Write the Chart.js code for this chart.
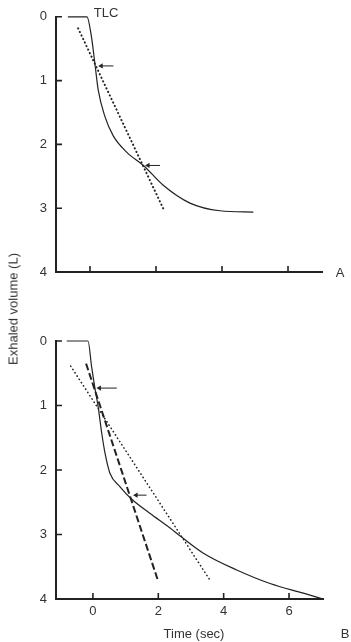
<!DOCTYPE html>
<html>
<head>
<meta charset="utf-8">
<script src="https://cdn.jsdelivr.net/npm/chart.js@4.4.1/dist/chart.umd.min.js"></script>
<style>
  html, body { margin: 0; padding: 0; background: #fff; }
  body { width: 351px; height: 642px; position: relative; overflow: hidden;
         font-family: "Liberation Sans", Arial, sans-serif; color: #333; }
  .box { position: absolute; left: 0; width: 351px; }
  .lbl { position: absolute; font-size: 13px; line-height: 1; white-space: nowrap;
         transform: translate(-50%, -50%); }
  .ytitle { transform: translate(-50%, -50%) rotate(-90deg); }
</style>
</head>
<body>
<div class="box" style="top:0;height:300px"><canvas id="chartA"></canvas></div>
<div class="box" style="top:300px;height:342px"><canvas id="chartB"></canvas></div>

<div class="lbl" style="left:106px;top:12px">TLC</div>
<div class="lbl" style="left:340px;top:272px">A</div>
<div class="lbl" style="left:345px;top:633px">B</div>
<div class="lbl" style="left:194px;top:633px">Time (sec)</div>
<div class="lbl ytitle" style="left:13px;top:309px">Exhaled volume (L)</div>

<script>
// tick values
const timeTicks = [0, 2, 4, 6];
const volumeTicks = [0, 1, 2, 3, 4];

// ---- panel A ----
const aCurveT = [-0.67, -0.09, 0.04, 0.15, 0.25, 0.45, 0.71, 1.11, 1.62, 2.22, 3.03, 3.94, 4.95];
const aCurveV = [0, 0, 0.3, 0.74, 1.15, 1.56, 1.87, 2.12, 2.33, 2.64, 2.92, 3.04, 3.06];
const aDotT = [-0.36, 2.26];
const aDotV = [0.18, 3.05];
// arrows: head (triangle) then tail
const aArrow1T = [0.34, 0.71];
const aArrow1V = [0.77, 0.77];
const aArrow2T = [1.76, 2.12];
const aArrow2V = [2.33, 2.33];

// ---- panel B ----
const bCurveT = [-0.80, -0.15, -0.04, 0.06, 0.16, 0.27, 0.37, 0.52, 0.83, 1.18, 1.74, 2.36, 2.66, 3.38, 4.40, 5.42, 6.44, 7.05];
const bCurveV = [0, 0, 0.40, 0.73, 1.02, 1.43, 1.74, 2.05, 2.26, 2.45, 2.67, 2.90, 3.02, 3.29, 3.55, 3.76, 3.91, 4.0];
const bDashT = [-0.21, 2.0];
const bDashV = [0.35, 3.73];
const bDotT = [-0.68, 3.61];
const bDotV = [0.39, 3.73];
const bArrow1T = [0.20, 0.73];
const bArrow1V = [0.73, 0.73];
const bArrow2T = [1.32, 1.64];
const bArrow2V = [2.39, 2.39];

const ink = "#222";
const zip = (t, v) => t.map((x, i) => ({ x: x, y: v[i] }));

Chart.defaults.font.family = '"Liberation Sans", Arial, sans-serif';
Chart.defaults.font.size = 13;
Chart.defaults.color = "#333";

// ticks pointing into the plot area
const insideTicks = {
  id: "insideTicks",
  afterDraw(chart) {
    const { ctx, chartArea: a, scales } = chart;
    ctx.save();
    ctx.strokeStyle = ink;
    ctx.lineWidth = 1.6;
    ctx.beginPath();
    scales.y.ticks.forEach((t) => {
      const py = scales.y.getPixelForValue(t.value);
      ctx.moveTo(a.left, py);
      ctx.lineTo(a.left + 6, py);
    });
    scales.x.ticks.forEach((t) => {
      const px = scales.x.getPixelForValue(t.value);
      ctx.moveTo(px, a.bottom);
      ctx.lineTo(px, a.bottom - 6);
    });
    ctx.stroke();
    ctx.restore();
  },
};

const curve = (t, v) => ({
  data: zip(t, v), borderColor: ink, borderWidth: 1.2,
  cubicInterpolationMode: "monotone", pointRadius: 0,
});
const dotted = (t, v, w) => ({
  data: zip(t, v), borderColor: ink, borderWidth: w,
  borderDash: [0.3, 3.6], borderCapStyle: "round", pointRadius: 0,
});
const dashed = (t, v) => ({
  data: zip(t, v), borderColor: ink, borderWidth: 2,
  borderDash: [7, 3], pointRadius: 0,
});
const arrow = (t, v) => ({
  data: zip(t, v), borderColor: ink, borderWidth: 1,
  pointStyle: "triangle", pointRadius: [3, 0], rotation: [270, 0],
  pointBackgroundColor: ink, pointBorderWidth: 0,
});

function panel(id, datasets, o) {
  new Chart(document.getElementById(id), {
    type: "scatter",
    data: { datasets: datasets.map((d) => Object.assign({ showLine: true, clip: false }, d)) },
    options: {
      responsive: true,
      maintainAspectRatio: false,
      animation: false,
      layout: { padding: { top: o.top, right: o.right, bottom: 0, left: 0 } },
      plugins: { legend: { display: false }, tooltip: { enabled: false } },
      scales: {
        x: {
          type: "linear", min: o.xmin, max: o.xmax,
          afterBuildTicks: (s) => { s.ticks = timeTicks.map((v) => ({ value: v })); },
          afterFit: (s) => { s.height = o.xh; },
          grid: { drawOnChartArea: false, drawTicks: false },
          border: { color: ink, width: 2 },
          ticks: { display: o.xlabels, padding: 5, color: "#333" },
        },
        y: {
          type: "linear", min: 0, max: 4, reverse: true,
          afterBuildTicks: (s) => { s.ticks = volumeTicks.map((v) => ({ value: v })); },
          afterFit: (s) => { s.width = 56; },
          grid: { drawOnChartArea: false, drawTicks: false },
          border: { color: ink, width: 2 },
          ticks: { padding: 9, color: "#333" },
        },
      },
    },
    plugins: [insideTicks],
  });
}

panel("chartA", [
  curve(aCurveT, aCurveV),
  dotted(aDotT, aDotV, 2),
  arrow(aArrow1T, aArrow1V),
  arrow(aArrow2T, aArrow2V),
], { top: 12, right: 29, xh: 28, xmin: -1.03, xmax: 7.03, xlabels: false });

panel("chartB", [
  curve(bCurveT, bCurveV),
  dashed(bDashT, bDashV),
  dotted(bDotT, bDotV, 1.6),
  arrow(bArrow1T, bArrow1V),
  arrow(bArrow2T, bArrow2V),
], { top: 41, right: 28, xh: 43, xmin: -1.13, xmax: 7.04, xlabels: true });
</script>
</body>
</html>
